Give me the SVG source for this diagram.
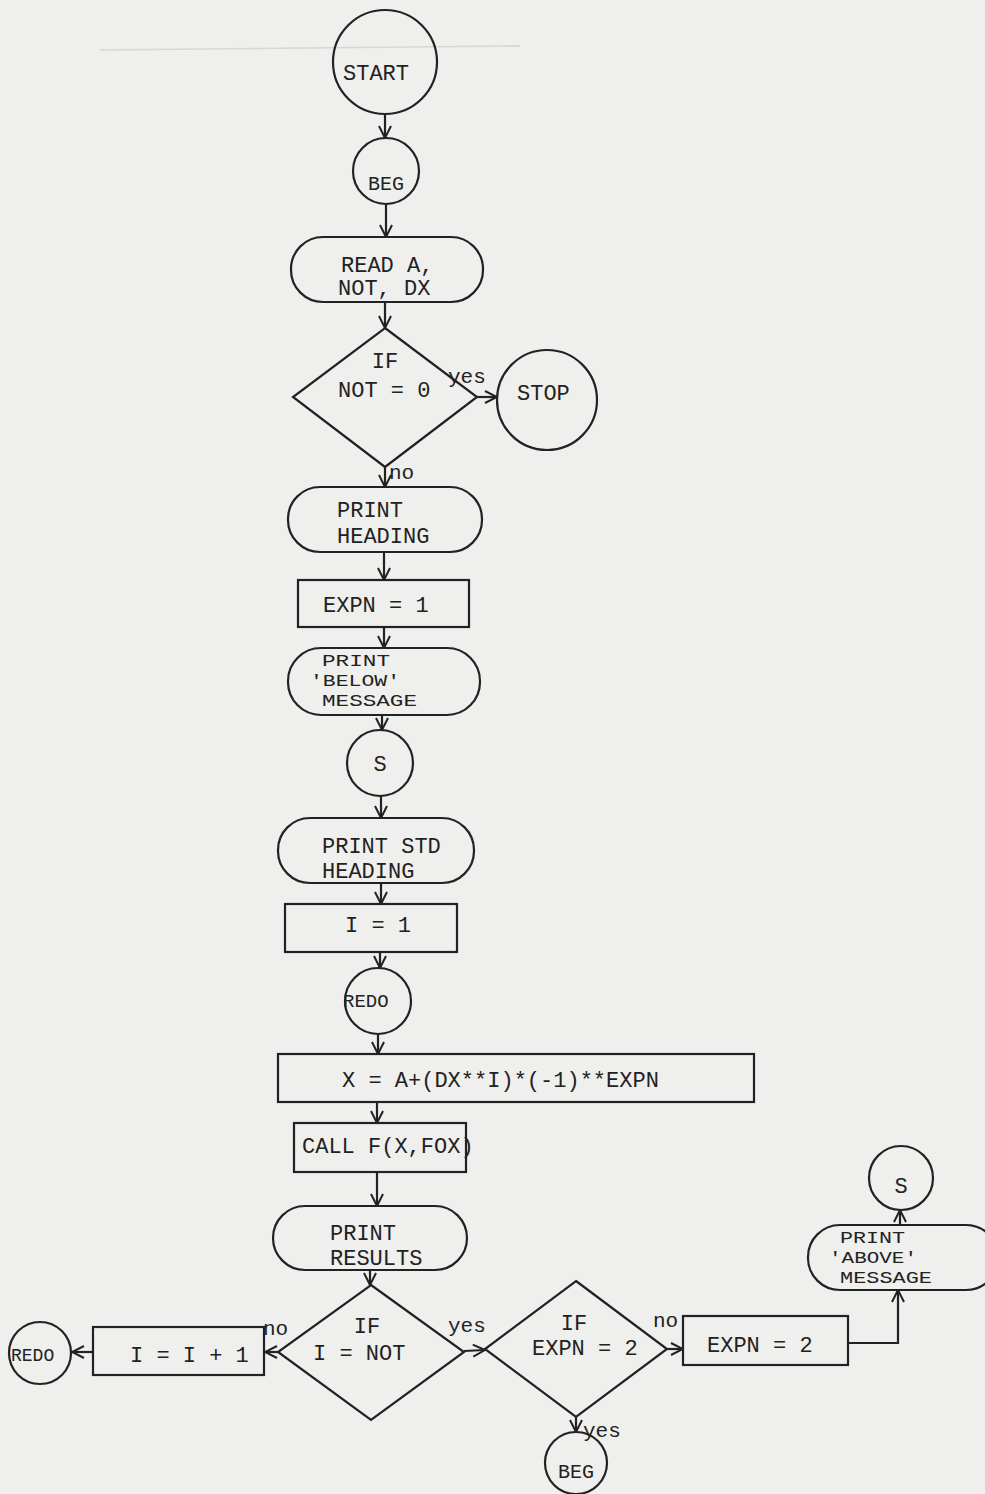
<svg xmlns="http://www.w3.org/2000/svg" width="985" height="1494" viewBox="0 0 985 1494">
<defs>
<marker id="ah" viewBox="0 0 14 14" refX="13" refY="7" markerWidth="14" markerHeight="14" markerUnits="userSpaceOnUse" orient="auto">
<path d="M1,1 L13,7 L1,13" fill="none" stroke="#222" stroke-width="2"/>
</marker>
<style>
.s{fill:none;stroke:#222;stroke-width:2.2}
.t{font-family:"Liberation Mono","Courier New",monospace;font-size:22px;fill:#222}
.m{font-family:"Liberation Mono","Courier New",monospace;font-size:17px;fill:#222}
.c{stroke:#222;stroke-width:2.2;fill:none;marker-end:url(#ah)}
.l{font-family:"Liberation Mono","Courier New",monospace;font-size:21px;fill:#222}
</style>
</defs>
<rect x="0" y="0" width="985" height="1494" fill="#efefed"/>
<line x1="100" y1="50" x2="520" y2="46" stroke="#d6d6d4" stroke-width="1.5"/>

<g id="start"><circle class="s" cx="385" cy="62" r="52"/><text class="t" x="343" y="80">START</text></g>
<g id="beg1"><circle class="s" cx="386" cy="171" r="33"/><text class="t" x="368" y="190" style="font-size:20px">BEG</text></g>
<g id="read"><rect class="s" x="291" y="237" width="192" height="65" rx="32"/><text class="t" x="341" y="272">READ A,</text><text class="t" x="338" y="295">NOT, DX</text></g>
<g id="if1"><polygon class="s" points="385,328 477,397 385,467 293,397"/><text class="t" x="385" y="368" text-anchor="middle">IF</text><text class="t" x="338" y="397">NOT = 0</text></g>
<g id="stop"><circle class="s" cx="547" cy="400" r="50"/><text class="t" x="517" y="400">STOP</text></g>
<g id="heading"><rect class="s" x="288" y="487" width="194" height="65" rx="32"/><text class="t" x="337" y="517">PRINT</text><text class="t" x="337" y="543">HEADING</text></g>
<g id="expn1"><rect class="s" x="298" y="580" width="171" height="47"/><text class="t" x="323" y="612">EXPN = 1</text></g>
<g id="below"><rect class="s" x="288" y="648" width="192" height="67" rx="33"/><text class="m" x="322" y="666" textLength="68" lengthAdjust="spacingAndGlyphs">PRINT</text><text class="m" x="310" y="686" textLength="90" lengthAdjust="spacingAndGlyphs">'BELOW'</text><text class="m" x="322" y="706" textLength="95" lengthAdjust="spacingAndGlyphs">MESSAGE</text></g>
<g id="s1"><circle class="s" cx="380" cy="763" r="33"/><text class="t" x="380" y="771" text-anchor="middle">S</text></g>
<g id="stdheading"><rect class="s" x="278" y="818" width="196" height="65" rx="32"/><text class="t" x="322" y="853">PRINT STD</text><text class="t" x="322" y="878">HEADING</text></g>
<g id="i1"><rect class="s" x="285" y="904" width="172" height="48"/><text class="t" x="345" y="932">I = 1</text></g>
<g id="redo1"><circle class="s" cx="378" cy="1001" r="33"/><text class="t" x="343" y="1007" style="font-size:19px">REDO</text></g>
<g id="xcalc"><rect class="s" x="278" y="1054" width="476" height="48"/><text class="t" x="342" y="1087">X = A+(DX**I)*(-1)**EXPN</text></g>
<g id="call"><rect class="s" x="294" y="1123" width="172" height="49"/><text class="t" x="302" y="1153">CALL F(X,FOX)</text></g>
<g id="results"><rect class="s" x="273" y="1206" width="194" height="64" rx="32"/><text class="t" x="330" y="1240">PRINT</text><text class="t" x="330" y="1265">RESULTS</text></g>
<g id="if2"><polygon class="s" points="371,1285 464,1352 371,1420 278,1352"/><text class="t" x="367" y="1333" text-anchor="middle">IF</text><text class="t" x="313" y="1360">I = NOT</text></g>
<g id="inc"><rect class="s" x="93" y="1327" width="171" height="48"/><text class="t" x="130" y="1362">I = I + 1</text></g>
<g id="redo2"><circle class="s" cx="40" cy="1353" r="31"/><text class="t" x="11" y="1361" style="font-size:18px">REDO</text></g>
<g id="if3"><polygon class="s" points="576,1281 667,1349 576,1417 485,1349"/><text class="t" x="574" y="1330" text-anchor="middle">IF</text><text class="t" x="532" y="1355">EXPN = 2</text></g>
<g id="expn2"><rect class="s" x="683" y="1316" width="165" height="49"/><text class="t" x="707" y="1352">EXPN = 2</text></g>
<g id="above"><rect class="s" x="808" y="1225" width="190" height="65" rx="32"/><text class="m" x="840" y="1243" textLength="65" lengthAdjust="spacingAndGlyphs">PRINT</text><text class="m" x="829" y="1263" textLength="88" lengthAdjust="spacingAndGlyphs">'ABOVE'</text><text class="m" x="840" y="1283" textLength="92" lengthAdjust="spacingAndGlyphs">MESSAGE</text></g>
<g id="s2"><circle class="s" cx="901" cy="1178" r="32"/><text class="t" x="901" y="1193" text-anchor="middle">S</text></g>
<g id="beg2"><circle class="s" cx="576" cy="1463" r="31"/><text class="t" x="558" y="1478" style="font-size:20px">BEG</text></g>

<g id="connectors">
<line class="c" x1="385" y1="114" x2="385" y2="138"/>
<line class="c" x1="386" y1="204" x2="386" y2="237"/>
<line class="c" x1="385" y1="302" x2="385" y2="328"/>
<line class="c" x1="477" y1="397" x2="497" y2="397"/>
<line class="c" x1="385" y1="467" x2="385" y2="487"/>
<line class="c" x1="384" y1="552" x2="384" y2="580"/>
<line class="c" x1="384" y1="627" x2="384" y2="648"/>
<line class="c" x1="382" y1="715" x2="382" y2="730"/>
<line class="c" x1="381" y1="796" x2="381" y2="818"/>
<line class="c" x1="381" y1="883" x2="381" y2="904"/>
<line class="c" x1="380" y1="952" x2="380" y2="968"/>
<line class="c" x1="378" y1="1034" x2="378" y2="1054"/>
<line class="c" x1="377" y1="1102" x2="377" y2="1123"/>
<line class="c" x1="377" y1="1172" x2="377" y2="1206"/>
<line class="c" x1="370" y1="1270" x2="370" y2="1285"/>
<line class="c" x1="278" y1="1352" x2="265" y2="1352"/>
<line class="c" x1="93" y1="1352" x2="72" y2="1352"/>
<line class="c" x1="464" y1="1351" x2="485" y2="1350"/>
<line class="c" x1="667" y1="1349" x2="683" y2="1349"/>
<polyline class="c" points="848,1343 898,1343 898,1290"/>
<line class="c" x1="900" y1="1225" x2="900" y2="1210"/>
<line class="c" x1="576" y1="1417" x2="576" y2="1432"/>
<text class="l" x="448" y="383">yes</text>
<text class="l" x="389" y="479">no</text>
<text class="l" x="263" y="1335">no</text>
<text class="l" x="448" y="1332">yes</text>
<text class="l" x="653" y="1327">no</text>
<text class="l" x="583" y="1437">yes</text>
</g>
</svg>
